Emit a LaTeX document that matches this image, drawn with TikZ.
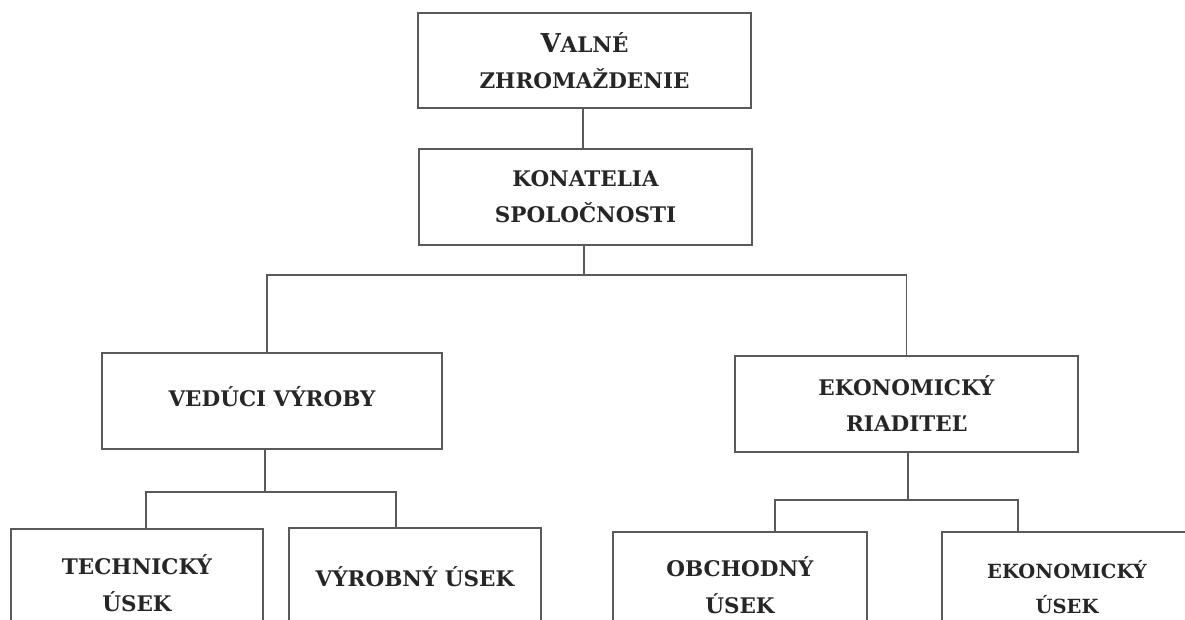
\documentclass[tikz,border=0pt]{standalone}
\usepackage{fontspec}
\setmainfont{DejaVu Serif}
\definecolor{linec}{HTML}{5A5A5A}
\definecolor{textc}{HTML}{262626}
\tikzset{
  orgbox/.style={draw=linec, line width=1.1pt, align=center, text=textc,
    inner sep=0pt, font=\fontsize{21.5}{36}\selectfont\bfseries},
  lowbox/.style={orgbox, font=\fontsize{21.5}{37}\selectfont\bfseries},
  conn/.style={draw=linec, line width=1.1pt}
}
\begin{document}
\begin{tikzpicture}[x=1pt,y=-1pt]
\useasboundingbox (0,0) rectangle (1185,619);
\clip (0,0) rectangle (1185,619);
\fill[white] (0,0) rectangle (1185,619);
% boxes
\node[orgbox, minimum width=333pt, minimum height=95pt] (vz) at (584.5,60.5)
  {{\fontsize{26}{36}\selectfont V}ALNÉ\\ZHROMAŽDENIE};
\node[orgbox, minimum width=333pt, minimum height=96pt] (ks) at (585.5,197)
  {KONATELIA\\SPOLOČNOSTI};
\node[orgbox, minimum width=340pt, minimum height=96pt] (vv) at (272,401)
  {\raisebox{8pt}{VEDÚCI VÝROBY}};
\node[orgbox, minimum width=343pt, minimum height=96pt] (er) at (906.5,404)
  {EKONOMICKÝ\\RIADITEĽ};
\node[lowbox, minimum width=252pt, minimum height=108pt] (tu) at (137,583)
  {TECHNICKÝ\\ÚSEK};
\node[orgbox, minimum width=252pt, minimum height=98pt] (vu) at (415,577)
  {VÝROBNÝ ÚSEK};
\node[lowbox, minimum width=254pt, minimum height=106pt] (ou) at (740,585)
  {OBCHODNÝ\\ÚSEK};
\node[orgbox, minimum width=250pt, minimum height=110pt,
  font=\fontsize{19.5}{35}\selectfont\bfseries] (eu) at (1067,587)
  {EKONOMICKÝ\\ÚSEK};
% junctions
\coordinate (j1) at (584,275);
\coordinate (j2) at (265,492);
\coordinate (j3) at (908,500);
% connectors
\draw[conn] ([xshift=-1.5pt]vz.south) -- ([xshift=-2.5pt]ks.north);
\draw[conn] (ks.south -| j1) -- (j1);
\draw[conn] ([xshift=-5pt]vv.north) |- (j1) -| (er.north);
\draw[conn] (vv.south -| j2) -- (j2);
\draw[conn] ([xshift=9pt]tu.north) |- (j2) -| ([xshift=-19pt]vu.north);
\draw[conn] (er.south -| j3) -- (j3);
\draw[conn] ([xshift=35pt]ou.north) |- (j3) -| ([xshift=-49pt]eu.north);
\end{tikzpicture}
\end{document}
